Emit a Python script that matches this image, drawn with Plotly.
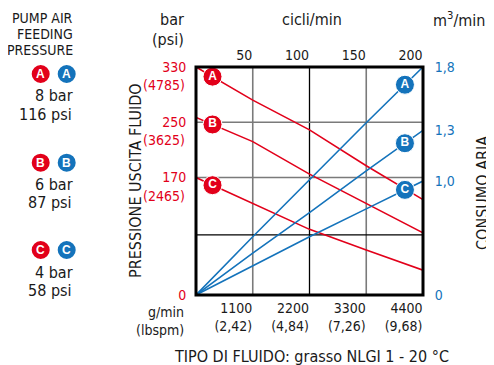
import numpy as np
import plotly.graph_objects as go

# ---------------- data ----------------
flow_gmin = [0, 1100, 2200, 3300, 4400]            # g/min (bottom axis)
flow_lbspm = ["2,42", "4,84", "7,26", "9,68"]      # lbs/min labels
cycles_ticks = [50, 100, 150, 200]                 # cicli/min (top axis)

# fluid outlet pressure (bar) per feed pressure curve
press_A = [330, 282, 239, 187, 138]
press_B = [257, 222, 175, 132, 90]
press_C = [170, 132, 95, 65, 36]

# air consumption (m3/min)
air_A = [0, 0.46, 0.91, 1.36, 1.80]
air_B = [0, 0.33, 0.65, 0.98, 1.30]
air_C = [0, 0.23, 0.46, 0.68, 0.90]

left_ticks = [0, 170, 250, 330]
left_psi = ["", "(2465)", "(3625)", "(4785)"]
right_ticktext = ["0", "1,0", "1,3", "1,8"]

curve_letters = ["A", "B", "C"]
feed_bar = ["8 bar", "6 bar", "4 bar"]
feed_psi = ["116 psi", "87 psi", "58 psi"]
grid_flow = [1100, 2200, 3300]
grid_bar = [87, 170, 250]

# ---------------- style ----------------
RED = "#e2001a"
BLUE = "#1473bb"
TXT = "#1a1a1a"
GREY = "#7a7a7a"
FONT = "Liberation Sans Narrow, DejaVu Sans Condensed, Arial Narrow, sans-serif"

PAGE_W, PAGE_H = 494, 365
OFF = 8  # default body margin of the html page
L, R, T, B = 196, 423, 67, 295   # plot area in page pixels


def pxx(x):
    return (x - L) / (R - L)


def pxy(y):
    return (B - y) / (B - T)


fig = go.Figure()

reds = [press_A, press_B, press_C]
blues = [air_A, air_B, air_C]

for s in reds:
    fig.add_trace(go.Scatter(x=flow_gmin, y=s, mode="lines",
                             line=dict(color=RED, width=1.6),
                             hoverinfo="skip", showlegend=False))
for s in blues:
    fig.add_trace(go.Scatter(x=flow_gmin, y=s, mode="lines", yaxis="y2",
                             line=dict(color=BLUE, width=1.6),
                             hoverinfo="skip", showlegend=False))

# letter markers on the curves
mx_red = 320
mx_blue = 4050
fig.add_trace(go.Scatter(
    x=[mx_red] * 3, y=[float(np.interp(mx_red, flow_gmin, s)) for s in reds],
    mode="markers+text", text=curve_letters, textposition="middle center",
    textfont=dict(color="white", size=12, family="Liberation Sans, Arial, sans-serif", weight="bold"),
    marker=dict(size=19, color=RED, line=dict(color="white", width=1)),
    hoverinfo="skip", showlegend=False))
fig.add_trace(go.Scatter(
    x=[mx_blue] * 3, y=[float(np.interp(mx_blue, flow_gmin, s)) for s in blues],
    yaxis="y2",
    mode="markers+text", text=curve_letters, textposition="middle center",
    textfont=dict(color="white", size=12, family="Liberation Sans, Arial, sans-serif", weight="bold"),
    marker=dict(size=19, color=BLUE, line=dict(color="white", width=1)),
    hoverinfo="skip", showlegend=False))

# invisible trace for top axis
fig.add_trace(go.Scatter(x=[0, 200], y=[0, 0], xaxis="x2", mode="markers",
                         marker=dict(opacity=0), hoverinfo="skip", showlegend=False))

shapes = []
grid_cols = [GREY, "black", GREY]
for gx, c in zip(grid_flow, grid_cols):
    shapes.append(dict(type="line", xref="x", yref="paper", x0=gx, x1=gx, y0=0, y1=1,
                       line=dict(color=c, width=1.6 if c == GREY else 1.3), layer="below"))
grid_rows = ["black", GREY, GREY]
for gy, c in zip(grid_bar, grid_rows):
    shapes.append(dict(type="line", xref="paper", yref="y", x0=0, x1=1, y0=gy, y1=gy,
                       line=dict(color=c, width=1.6 if c == GREY else 1.3), layer="below"))
shapes.append(dict(type="rect", xref="paper", yref="paper", x0=0, x1=1, y0=0, y1=1,
                   line=dict(color="black", width=3), layer="above"))

annotations = []


def ann(text, x, y, size=14, color=TXT, xanchor="center", angle=0, bold=False, fam=FONT):
    annotations.append(dict(text=text, xref="paper", yref="paper", x=pxx(x), y=pxy(y),
                            xanchor=xanchor, yanchor="middle", showarrow=False,
                            textangle=angle,
                            font=dict(size=size, color=color, family=fam,
                                      weight="bold" if bold else "normal")))


# left pressure psi labels
for v, t in zip(left_ticks, left_psi):
    if t:
        annotations.append(dict(text=t, xref="paper", yref="y", x=0, y=v, xanchor="right",
                                yanchor="middle", xshift=-9, yshift=-18, showarrow=False,
                                font=dict(size=14, color=RED, family=FONT)))

# axis titles
ann("bar", 186, 20, 16, xanchor="right")
ann("(psi)", 186, 40, 16, xanchor="right")
ann("cicli/min", 312, 20, 16)
ann("m<sup>3</sup>/min", 459, 20, 16)
ann("g/min", 186, 312, 14, xanchor="right")
ann("(lbspm)", 186, 330, 14, xanchor="right")
ann("PRESSIONE USCITA FLUIDO", 135, 181, 16, angle=-90)
ann("CONSUMO ARIA", 482, 193, 16, angle=-90)
ann("TIPO DI FLUIDO: grasso NLGI 1 - 20 °C", 311, 356, 16)

# left legend panel
ann("PUMP AIR", 75, 18, 14, xanchor="right")
ann("FEEDING", 75, 34, 14, xanchor="right")
ann("PRESSURE", 75, 50, 14, xanchor="right")
circle_y = [74, 162.7, 250]
for i, letter in enumerate(curve_letters):
    cy = circle_y[i]
    for cx, col in ((40.7, RED), (66.7, BLUE)):
        shapes.append(dict(type="circle", xref="paper", yref="paper",
                           xsizemode="pixel", ysizemode="pixel",
                           xanchor=pxx(cx), yanchor=pxy(cy),
                           x0=-9, x1=9, y0=-9, y1=9,
                           fillcolor=col, line=dict(color=col, width=0)))
        ann(letter, cx, cy, 12, color="white", bold=True,
            fam="Liberation Sans, Arial, sans-serif")
    ann(feed_bar[i], 75, cy + 22, 16, xanchor="right")
    ann(feed_psi[i], 74, cy + 40, 16, xanchor="right")

fig.update_layout(
    width=PAGE_W - OFF, height=PAGE_H - OFF,
    margin=dict(l=L - OFF, r=PAGE_W - R, t=T - OFF, b=PAGE_H - B, pad=0),
    paper_bgcolor="white", plot_bgcolor="white",
    font=dict(family=FONT, color=TXT, size=14),
    shapes=shapes, annotations=annotations,
    xaxis=dict(range=[0, 4400], tickvals=flow_gmin[1:],
               ticktext=[f"{v}<br>({l})" for v, l in zip(flow_gmin[1:], flow_lbspm)],
               ticklabelposition="outside left",
               showgrid=False, zeroline=False, showline=False,
               ticks="outside", ticklen=8, tickcolor="rgba(0,0,0,0)",
               tickfont=dict(size=14, color=TXT), fixedrange=True),
    xaxis2=dict(range=[0, 200], overlaying="x", side="top", tickvals=cycles_ticks,
                ticklabelposition="outside left",
                showgrid=False, zeroline=False, showline=False,
                ticks="outside", ticklen=6, tickcolor="rgba(0,0,0,0)",
                tickfont=dict(size=14, color=TXT), fixedrange=True),
    yaxis=dict(range=[0, 330], tickvals=left_ticks, ticktext=[str(v) for v in left_ticks],
               showgrid=False, zeroline=False, showline=False,
               ticks="outside", ticklen=6, tickcolor="rgba(0,0,0,0)",
               tickfont=dict(size=14, color=RED), fixedrange=True),
    yaxis2=dict(range=[0, 1.8], overlaying="y", side="right",
                tickvals=[0] + [s[-1] for s in blues][::-1],
                ticktext=right_ticktext,
                showgrid=False, zeroline=False, showline=False,
                ticks="outside", ticklen=8, tickcolor="rgba(0,0,0,0)",
                tickfont=dict(size=14, color=BLUE), fixedrange=True),
)

fig.write_html("out.html")
